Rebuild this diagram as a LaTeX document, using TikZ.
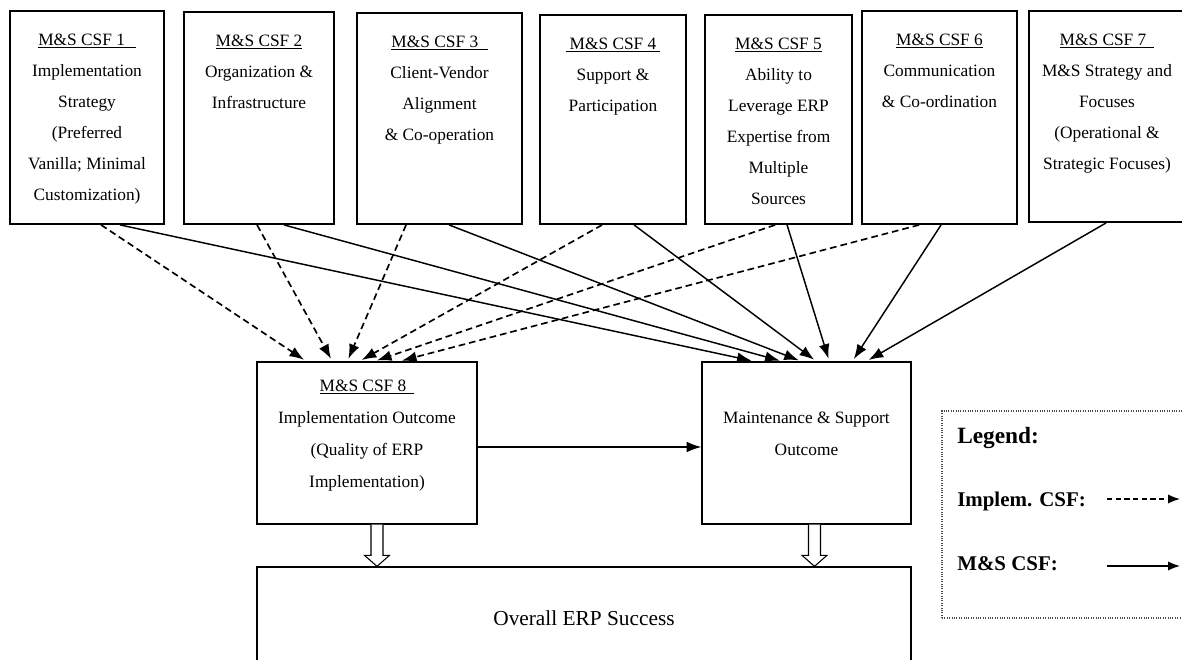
\documentclass[tikz,border=0pt]{standalone}
\usepackage{fontspec}
\setmainfont{Liberation Serif}
\usetikzlibrary{arrows.meta,calc,fit}
\begin{document}
\begin{tikzpicture}[x=0.75pt,y=-0.75pt,
  topbox/.style={draw, line width=1.4pt, inner sep=0pt},
  midbox/.style={draw, line width=1pt, inner sep=0pt},
  txt/.style={align=center, inner sep=0pt, anchor=north, font=\fontsize{13}{23.25}\selectfont},
  midtxt/.style={align=center, inner sep=0pt, anchor=north, font=\fontsize{13}{24}\selectfont},
  implarrow/.style={line width=1.25pt, dash pattern=on 5pt off 3pt, shorten >=2pt, -{Latex[length=11pt,width=8pt]}},
  msarrow/.style={line width=1.1pt, shorten >=2pt, -{Latex[length=11pt,width=8pt]}},
  blockarrow/.style={draw, line width=0.8pt, fill=white},
  legtxt/.style={anchor=base west, inner sep=0pt, font=\fontsize{15.7}{18}\selectfont\bfseries}
]
\useasboundingbox (0,0) rectangle (1182,660);

% ---- seven critical success factors along the top
\node[topbox, fit={(10,11) (164,224)}] (b1) {};
\node[topbox, fit={(184,12) (334,224)}] (b2) {};
\node[topbox, fit={(357,13) (522,224)}] (b3) {};
\node[topbox, fit={(540,15) (686,224)}] (b4) {};
\node[topbox, fit={(705,15) (852,224)}] (b5) {};
\node[topbox, fit={(862,11) (1017,224)}] (b6) {};
\node[topbox, fit={(1029,11) (1185,222)}] (b7) {};

\node[txt] (t1) at ($(b1.north)+(0,23.5)$) {\underline{M\&S CSF 1\kern8pt}\\Implementation\\Strategy\\(Preferred\\Vanilla; Minimal\\Customization)};
\node[txt] (t2) at ($(b2.north)+(0,23.5)$) {\underline{M\&S CSF 2}\\Organization \&\\Infrastructure};
\node[txt] (t3) at ($(b3.north)+(0,23.5)$) {\underline{M\&S CSF 3\kern7pt}\\Client-Vendor\\Alignment\\\& Co-operation};
\node[txt] (t4) at ($(b4.north)+(0,23.5)$) {\underline{\kern3pt M\&S CSF 4\kern3pt}\\Support \&\\Participation};
\node[txt] (t5) at ($(b5.north)+(0,23.5)$) {\underline{M\&S CSF 5}\\Ability to\\Leverage ERP\\Expertise from\\Multiple\\Sources};
\node[txt] (t6) at ($(b6.north)+(0,23.5)$) {\underline{M\&S CSF 6}\\Communication\\\& Co-ordination};
\node[txt] (t7) at ($(b7.north)+(0,23.5)$) {\underline{M\&S CSF 7\kern6pt}\\M\&S Strategy and\\Focuses\\(Operational \&\\Strategic Focuses)};

% ---- outcomes
\node[midbox, fit={(257,362) (477,524)}] (b8) {};
\node[midbox, fit={(702,362) (911,524)}] (ms) {};
\node[midbox, fit={(257,567) (911,700)}] (ov) {};

\node[midtxt] (t8) at ($(b8.north)+(0,18)$) {\underline{M\&S CSF 8\kern6pt}\\Implementation Outcome\\(Quality of ERP\\Implementation)};
\node[midtxt] (tms) at ($(ms.north)+(0,50)$) {Maintenance \& Support\\Outcome};
\node[inner sep=0pt, font=\fontsize{16}{18}\selectfont] (tov) at ($(ov.north)+(0,52)$) {Overall ERP Success};

% ---- implementation CSF links (dashed)
\draw[implarrow] ($(b1.south west)+(92,0)$)  -- ($(b8.north west)+(50,0)$);
\draw[implarrow] ($(b2.south west)+(74,0)$)  -- ($(b8.north west)+(76,0)$);
\draw[implarrow] ($(b3.south west)+(50,0)$)  -- ($(b8.north west)+(91,0)$);
\draw[implarrow] ($(b4.south west)+(63,0)$)  -- ($(b8.north west)+(103,0)$);
\draw[implarrow] ($(b5.south west)+(71,0)$)  -- ($(b8.north west)+(118,0)$);
\draw[implarrow] ($(b6.south west)+(58,0)$)  -- ($(b8.north west)+(143,0)$);

% ---- maintenance and support CSF links (solid)
\draw[msarrow] ($(b1.south west)+(111,0)$) -- ($(ms.north west)+(53,0)$);
\draw[msarrow] ($(b2.south west)+(101,0)$) -- ($(ms.north west)+(81,0)$);
\draw[msarrow] ($(b3.south west)+(93,0)$)  -- ($(ms.north west)+(100,0)$);
\draw[msarrow] ($(b4.south west)+(95,0)$)  -- ($(ms.north west)+(115,0)$);
\draw[msarrow] ($(b5.south west)+(83,0)$)  -- ($(ms.north west)+(128,0)$);
\draw[msarrow] ($(b6.south west)+(80,0)$)  -- ($(ms.north west)+(151,0)$);
\draw[msarrow] ($(b7.south west)+(78,0)$)  -- ($(ms.north west)+(165,0)$);

\draw[msarrow, shorten >=0pt] ($(b8.east)+(0,4)$) -- ($(ms.west)+(0,4)$);

% ---- hollow block arrows into overall success
\coordinate (h1s) at ($(b8.south)+(10,0)$);
\coordinate (h1e) at (h1s |- ov.north);
\coordinate (h2s) at ($(ms.south)+(8,0)$);
\coordinate (h2e) at (h2s |- ov.north);
\foreach \s/\e in {h1s/h1e, h2s/h2e}{
  \path[blockarrow] ($(\s)+(-6,0)$) -- ($(\e)+(-6,-11)$) -- ($(\e)+(-12.5,-11)$) -- (\e)
     -- ($(\e)+(12.5,-11)$) -- ($(\e)+(6,-11)$) -- ($(\s)+(6,0)$);
}

% ---- legend
\node[draw=black!70, densely dotted, line width=0.8pt, inner sep=0pt, fit={(942,411) (1195,618)}] (lg) {};
\node[anchor=base west, inner sep=0pt, font=\fontsize{17.5}{20}\selectfont\bfseries] (lgt) at (957,443) {Legend:};
\node[legtxt] (lg1) at (957,506) {Implem. CSF:};
\node[legtxt] (lg2) at (957,570) {M\&S CSF:};
\coordinate (la1) at (1107,499);
\coordinate (lb1) at (1180,499);
\coordinate (la2) at (1107,566);
\coordinate (lb2) at (1180,566);
\draw[line width=1.1pt, dash pattern=on 4pt off 2.5pt, -{Latex[length=9pt,width=7pt]}] (la1) -- (lb1);
\draw[line width=1.1pt, -{Latex[length=9pt,width=7pt]}] (la2) -- (lb2);
\end{tikzpicture}
\end{document}
